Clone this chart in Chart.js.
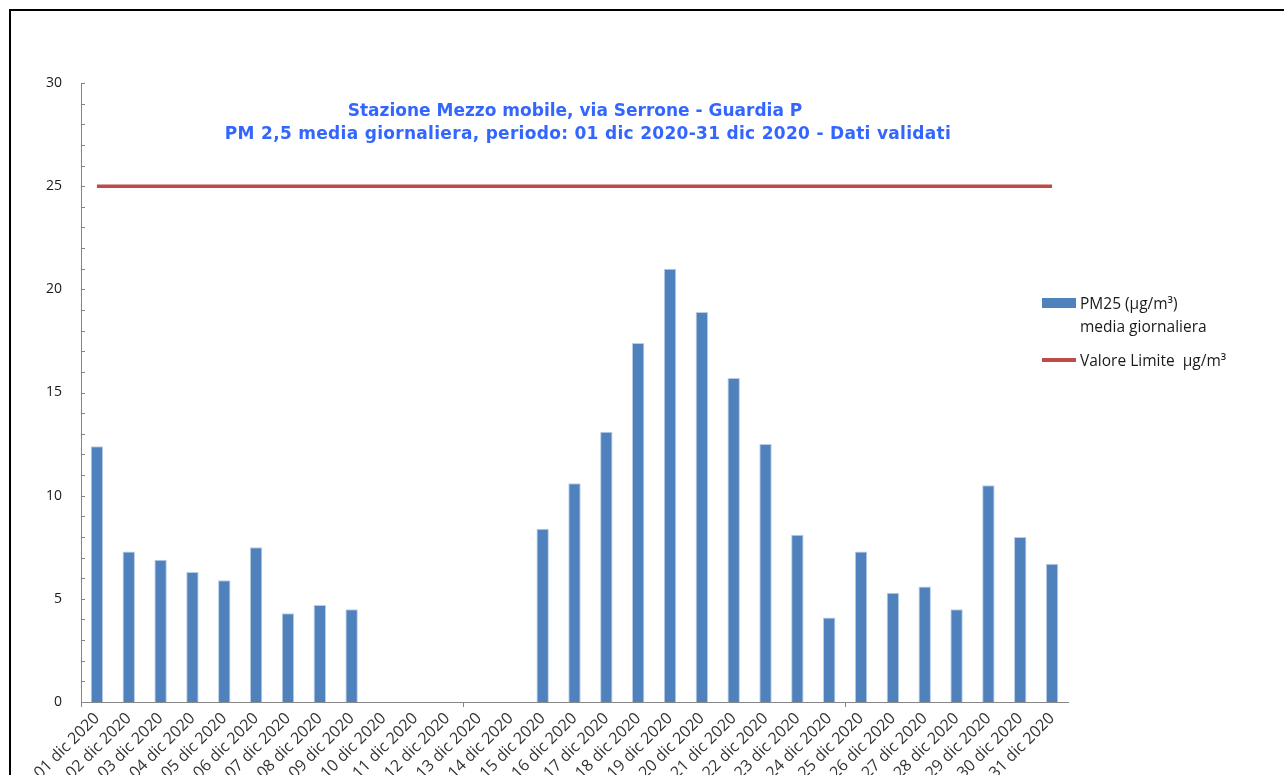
<!DOCTYPE html>
<html>
<head>
<meta charset="utf-8">
<title>PM 2,5 Guardia P</title>
<script src="https://cdn.jsdelivr.net/npm/chart.js@4"></script>
<style>
  html, body { margin: 0; padding: 0; background: #fff; overflow: hidden; }
  #wrap { position: relative; width: 1284px; height: 775px; }
  #frame {
    position: absolute; left: 9px; top: 9px; width: 1400px; height: 900px;
    border-left: 2px solid #000; border-top: 2px solid #000;
  }
  #chart { position: absolute; left: 0; top: 0; }
  .title {
    position: absolute; font-family: "DejaVu Sans", sans-serif; font-weight: bold;
    font-size: 17px; line-height: 20px; color: #3366ff; white-space: nowrap;
    transform: translateX(-50%);
  }
  .leg {
    position: absolute; font-family: "Open Sans", sans-serif; font-size: 15.5px;
    line-height: 20px; color: #1a1a1a; white-space: nowrap;
  }
  .sw { position: absolute; }
</style>
</head>
<body>
<div id="wrap">
  <div id="frame"></div>
  <canvas id="chart" width="1284" height="775"></canvas>
  <div class="title" id="t1" style="left:575px; top:100px;"></div>
  <div class="title" id="t2" style="left:588px; top:123px; letter-spacing:0.3px;"></div>
  <div class="sw" style="left:1042px; top:298px; width:34px; height:10px; background:#4f81bd;"></div>
  <div class="leg" style="left:1080px; top:293px;">PM25 (µg/m³)</div>
  <div class="leg" style="left:1080px; top:316px;">media giornaliera</div>
  <div class="sw" style="left:1042px; top:358px; width:34px; height:4px; background:#be4b48;"></div>
  <div class="leg" style="left:1080px; top:350px;">Valore Limite&nbsp; µg/m³</div>
</div>

<script>
/* ========= DATA ========= */

const titleLines = [
  "Stazione Mezzo mobile, via Serrone - Guardia P",
  "PM 2,5 media giornaliera, periodo: 01 dic 2020-31 dic 2020 - Dati validati"
];

const days = [
  "01 dic 2020", "02 dic 2020", "03 dic 2020", "04 dic 2020", "05 dic 2020",
  "06 dic 2020", "07 dic 2020", "08 dic 2020", "09 dic 2020", "10 dic 2020",
  "11 dic 2020", "12 dic 2020", "13 dic 2020", "14 dic 2020", "15 dic 2020",
  "16 dic 2020", "17 dic 2020", "18 dic 2020", "19 dic 2020", "20 dic 2020",
  "21 dic 2020", "22 dic 2020", "23 dic 2020", "24 dic 2020", "25 dic 2020",
  "26 dic 2020", "27 dic 2020", "28 dic 2020", "29 dic 2020", "30 dic 2020",
  "31 dic 2020"
];

// PM2.5 media giornaliera (null = dato mancante)
const pm25 = [
  12.4, 7.3, 6.9, 6.3, 5.9, 7.5, 4.3, 4.7, 4.5, null,
  null, null, null, null, 8.4, 10.6, 13.1, 17.4, 21.0, 18.9,
  15.7, 12.5, 8.1, 4.1, 7.3, 5.3, 5.6, 4.5, 10.5, 8.0,
  6.7
];

const limitValue = 25;
const limitLine = days.map(() => limitValue);

const yTicks = { min: 0, max: 30, major: 5 };


/* ========= TITLE ========= */

document.getElementById("t1").textContent = titleLines[0];
document.getElementById("t2").textContent = titleLines[1];


/* ========= INNER Y TICKS ========= */

const innerTicks = {
  id: "innerTicks",
  afterDraw(chart) {
    const y = chart.scales.y;
    const ctx = chart.ctx;
    const x0 = chart.chartArea.left;
    ctx.save();
    ctx.strokeStyle = "#868686";
    ctx.lineWidth = 1;
    y.ticks.forEach(t => {
      const py = Math.round(y.getPixelForValue(t.value)) + 0.5;
      ctx.beginPath();
      ctx.moveTo(x0, py);
      ctx.lineTo(x0 + 4, py);
      ctx.stroke();
    });
    ctx.restore();
  }
};


/* ========= CHART ========= */

new Chart(document.getElementById("chart"), {
  type: "bar",
  data: {
    labels: days,
    datasets: [
      {
        type: "line",
        label: "Valore Limite µg/m³",
        data: limitLine,
        borderColor: "#be4b48",
        borderWidth: 3.5,
        pointRadius: 0,
        fill: false,
        order: 0
      },
      {
        label: "PM25 (µg/m³) media giornaliera",
        data: pm25,
        backgroundColor: "#4f81bd",
        borderColor: "#b9cde5",
        borderWidth: 1,
        barPercentage: 0.39,
        categoryPercentage: 1,
        order: 1
      }
    ]
  },
  options: {
    responsive: false,
    animation: false,
    layout: { padding: { left: 0, right: 216, top: 83, bottom: 0 } },
    plugins: {
      legend: { display: false },
      title: { display: false },
      tooltip: { enabled: false }
    },
    scales: {
      x: {
        offset: true,
        afterFit: s => { s.height = 73; },
        border: { color: "#868686", width: 1 },
        grid: {
          drawOnChartArea: false,
          drawTicks: true,
          tickLength: 5,
          offset: true,
          color: c => (c.index % 12 === 0 ? "#868686" : "rgba(0,0,0,0)")
        },
        ticks: {
          autoSkip: false,
          minRotation: 45,
          maxRotation: 45,
          padding: 2,
          color: "#333333",
          font: { family: "Open Sans", size: 16 }
        }
      },
      y: {
        min: yTicks.min,
        max: yTicks.max,
        afterFit: s => { s.width = 81; },
        border: { color: "#868686", width: 1 },
        grid: { display: false, drawTicks: false },
        ticks: {
          stepSize: 1,
          autoSkip: false,
          padding: 19,
          color: "#1a1a1a",
          font: { family: "Open Sans", size: 14 },
          callback: v => (v % yTicks.major === 0 ? v : "")
        }
      }
    }
  },
  plugins: [innerTicks]
});
</script>
</body>
</html>
